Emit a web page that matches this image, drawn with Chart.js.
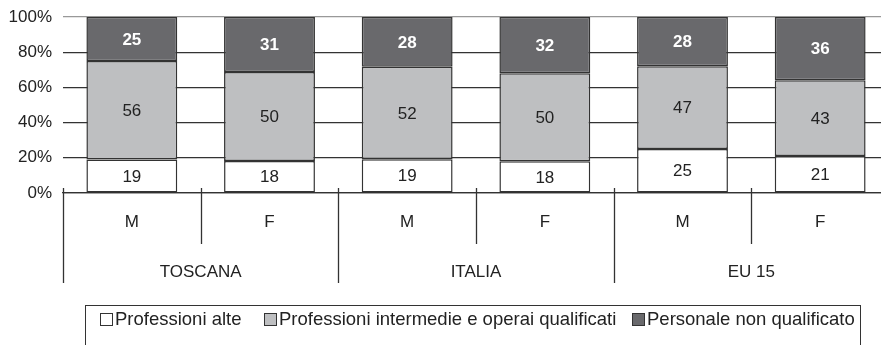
<!DOCTYPE html>
<html>
<head>
<meta charset="utf-8">
<script src="https://cdn.jsdelivr.net/npm/chart.js@4"></script>
<style>
  html, body { margin: 0; padding: 0; overflow: hidden; background: #fff; }
  #wrap { position: relative; width: 900px; height: 345px; }
</style>
</head>
<body>
<div id="wrap"><canvas id="chart"></canvas></div>
<script>
const sexes   = ["M", "F", "M", "F", "M", "F"];
const groups  = ["TOSCANA", "ITALIA", "EU 15"];
const alte    = [19, 18, 19, 18, 25, 21];
const interm  = [56, 50, 52, 50, 47, 43];
const nonQual = [25, 31, 28, 32, 28, 36];
const seriesNames = ["Professioni alte", "Professioni intermedie e operai qualificati", "Personale non qualificato"];
const yTicks  = [0, 20, 40, 60, 80, 100];

const FONT  = "'Liberation Sans', Arial, sans-serif";
const INK   = "#222";
const LINE  = "#333";
const FILLS = ["#ffffff", "#bebfc1", "#69696c"];

// 100% stacking: each bar shares of its own total
const totals = alte.map((v, i) => v + interm[i] + nonQual[i]);
const share  = arr => arr.map((v, i) => v / totals[i] * 100);
const raw    = [alte, interm, nonQual];

const datasets = raw.map((arr, k) => ({
  label: seriesNames[k],
  data: share(arr),
  raw: arr,
  backgroundColor: FILLS[k],
  borderColor: LINE,
  borderWidth: 1.5,
  borderSkipped: false,
  barPercentage: 0.66,
  categoryPercentage: 1.0,
}));

// value labels, group axis and framed legend
const decor = {
  id: "decor",
  afterDatasetsDraw(chart) {
    const ctx = chart.ctx;
    ctx.save();
    ctx.textAlign = "center";
    ctx.textBaseline = "middle";
    chart.data.datasets.forEach((ds, k) => {
      chart.getDatasetMeta(k).data.forEach((bar, i) => {
        const mid = (bar.y + bar.base) / 2;
        ctx.font = (k === 2 ? "bold " : "") + "17px " + FONT;
        ctx.fillStyle = k === 2 ? "#fff" : INK;
        ctx.fillText(String(ds.raw[i]), bar.x, mid + 1);
      });
    });
    ctx.restore();
  },
  afterDraw(chart) {
    const ctx = chart.ctx;
    const x = chart.scales.x;
    const base = x.top;
    const step = x.getPixelForValue(1) - x.getPixelForValue(0);
    ctx.save();
    ctx.strokeStyle = LINE;
    ctx.lineWidth = 1.3;
    for (let i = 0; i <= sexes.length; i++) {
      const px = Math.round(x.getPixelForValue(i) - step / 2) + 0.5;
      const outer = i % 2 === 0;
      ctx.beginPath();
      ctx.moveTo(px, base - 5);
      ctx.lineTo(px, outer ? 283 : 244);
      ctx.stroke();
    }
    ctx.font = "17px " + FONT;
    ctx.fillStyle = INK;
    ctx.textAlign = "center";
    ctx.textBaseline = "middle";
    groups.forEach((g, j) => {
      const cx = (x.getPixelForValue(2 * j) + x.getPixelForValue(2 * j + 1)) / 2;
      ctx.fillText(g, cx, 272);
    });

    // legend
    ctx.strokeStyle = LINE;
    ctx.lineWidth = 1;
    ctx.strokeRect(85.5, 305.5, 775, 60);
    const itemX = [100, 264, 632];
    ctx.font = "18.5px " + FONT;
    ctx.textAlign = "left";
    seriesNames.forEach((name, k) => {
      ctx.fillStyle = FILLS[k];
      ctx.fillRect(itemX[k] + 0.5, 313.5, 12, 12);
      ctx.strokeStyle = LINE;
      ctx.strokeRect(itemX[k] + 0.5, 313.5, 12, 12);
      ctx.fillStyle = INK;
      ctx.fillText(name, itemX[k] + 15, 320);
    });
    ctx.restore();
  },
};

new Chart(document.getElementById("chart"), {
  type: "bar",
  data: { labels: sexes, datasets },
  options: {
    animation: false,
    responsive: true,
    maintainAspectRatio: false,
    layout: { padding: { top: 17, right: 11, left: 0, bottom: 0 } },
    plugins: { legend: { display: false }, tooltip: { enabled: false } },
    scales: {
      x: {
        stacked: true,
        grid: { display: false, drawTicks: false },
        border: { display: true, color: LINE, width: 1.3 },
        ticks: { color: INK, font: { family: FONT, size: 17 }, padding: 19 },
        afterFit: s => { s.height = 152; s.paddingLeft = 0; s.paddingRight = 0; },
      },
      y: {
        stacked: true,
        min: 0,
        max: 100,
        afterBuildTicks: s => { s.ticks = yTicks.map(v => ({ value: v })); },
        grid: {
          drawTicks: false,
          color: c => (c.tick && c.tick.value === 100 ? "#999" : LINE),
          lineWidth: 1.2,
        },
        border: { display: false },
        ticks: {
          color: INK,
          font: { family: FONT, size: 17 },
          padding: 11,
          callback: v => v + "%",
        },
        afterFit: s => { s.width = 63; s.paddingTop = 0; s.paddingBottom = 0; },
      },
    },
  },
  plugins: [decor],
});
</script>
</body>
</html>
